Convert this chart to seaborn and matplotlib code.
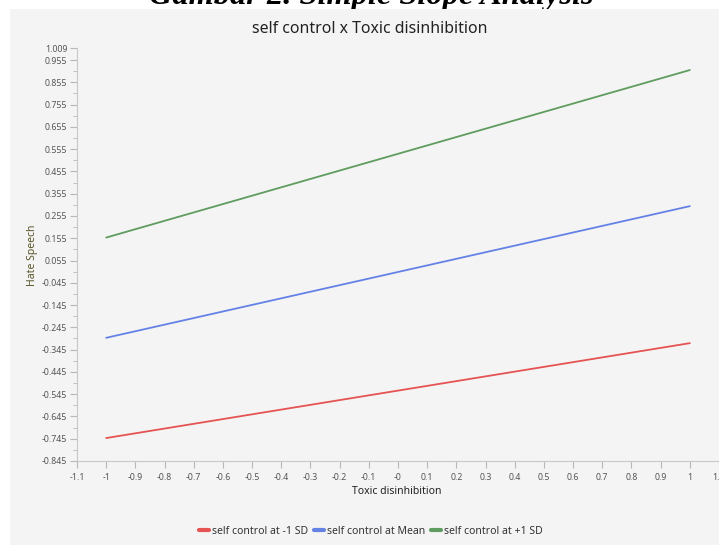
import matplotlib
matplotlib.use("Agg")
import matplotlib.pyplot as plt
from matplotlib.patches import Rectangle
from matplotlib.ticker import FixedLocator, FixedFormatter
import seaborn as sns
import pandas as pd

# ---- data ----
x_vals = [-1, 1]
series_names = ["self control at -1 SD", "self control at Mean", "self control at +1 SD"]
low_sd = [-0.742, -0.316]
mean_sd = [-0.292, 0.299]
high_sd = [0.158, 0.910]
colors = ["#e55353", "#6482e6", "#5f9c5f"]

y_major = [-0.845, -0.745, -0.645, -0.545, -0.445, -0.345, -0.245, -0.145, -0.045,
           0.055, 0.155, 0.255, 0.355, 0.455, 0.555, 0.655, 0.755, 0.855, 0.955, 1.009]
y_major_labels = ["-0.845", "-0.745", "-0.645", "-0.545", "-0.445", "-0.345", "-0.245",
                  "-0.145", "-0.045", "0.055", "0.155", "0.255", "0.355", "0.455", "0.555",
                  "0.655", "0.755", "0.855", "0.955", "1.009"]
y_minor = [-0.795, -0.695, -0.595, -0.495, -0.395, -0.295, -0.195, -0.095, 0.005,
           0.105, 0.205, 0.305, 0.405, 0.505, 0.605, 0.705, 0.805, 0.905]
x_ticks = [-1.1, -1.0, -0.9, -0.8, -0.7, -0.6, -0.5, -0.4, -0.3, -0.2, -0.1, 0.0,
           0.1, 0.2, 0.3, 0.4, 0.5, 0.6, 0.7, 0.8, 0.9, 1.0, 1.1]
x_tick_labels = ["-1.1", "-1", "-0.9", "-0.8", "-0.7", "-0.6", "-0.5", "-0.4", "-0.3",
                 "-0.2", "-0.1", "-0", "0.1", "0.2", "0.3", "0.4", "0.5", "0.6", "0.7",
                 "0.8", "0.9", "1", "1.1"]

df = pd.DataFrame({
    "Toxic disinhibition": x_vals * 3,
    "Hate Speech": low_sd + mean_sd + high_sd,
    "series": [series_names[0]] * 2 + [series_names[1]] * 2 + [series_names[2]] * 2,
})

sns.set_theme(style="white")
plt.rcParams["font.family"] = ["Noto Sans", "DejaVu Sans"]

W, H = 719, 545
bg = "#f4f4f4"
fig = plt.figure(figsize=(W / 100, H / 100), dpi=100, facecolor="white")

# caption (cut off at top, partly hidden behind the panel)
fig.text(371 / W, 1 - 4 / H, "Gambar 2. Simple Slope Analysis", ha="center", va="baseline",
         fontsize=23.3, fontweight="bold", fontstyle="italic", family="Liberation Serif",
         color="black", zorder=0.5)
fig.add_artist(Rectangle((10 / W, 0), 1 - 10 / W, 1 - 9 / H, transform=fig.transFigure,
                         facecolor=bg, edgecolor="none", zorder=1))

ax = fig.add_axes([77 / W, 1 - 461 / H, 1 - 77 / W, (461 - 48) / H])
ax.set_zorder(2)
ax.set_facecolor(bg)

sns.lineplot(data=df, x="Toxic disinhibition", y="Hate Speech", hue="series",
             hue_order=series_names, palette=colors, linewidth=1.3, ax=ax)

handles, labels = ax.get_legend_handles_labels()
ax.get_legend().remove()

ax.set_xlim(-1.1, 1.1)
ax.set_ylim(-0.845, 1.009)
ax.set_xlabel("")
ax.set_ylabel("")

ax.yaxis.set_major_locator(FixedLocator(y_major))
ax.yaxis.set_major_formatter(FixedFormatter(y_major_labels))
ax.yaxis.set_minor_locator(FixedLocator(y_minor))
ax.xaxis.set_major_locator(FixedLocator(x_ticks))
ax.xaxis.set_major_formatter(FixedFormatter(x_tick_labels))

for s in ["top", "right"]:
    ax.spines[s].set_visible(False)
for s in ["left", "bottom"]:
    ax.spines[s].set_color("#c8c8c8")
    ax.spines[s].set_linewidth(0.8)

ax.tick_params(axis="both", which="major", direction="out", length=5, width=0.8,
               color="#b8b8b8", labelsize=6.3, labelcolor="#555555", pad=2,
               left=True, bottom=True)
ax.tick_params(axis="y", which="minor", direction="out", length=3, width=0.7,
               color="#c0c0c0", left=True)
ax.tick_params(axis="x", which="major", pad=4)
for lab in ax.get_xticklabels() + ax.get_yticklabels():
    lab.set_clip_on(False)

fig.text(370 / W, 1 - 29 / H, "self control x Toxic disinhibition", ha="center", va="center",
         fontsize=11.4, color="#222222", zorder=3)
fig.text(397 / W, 1 - 492 / H, "Toxic disinhibition", ha="center", va="center",
         fontsize=7.5, color="#222222", zorder=3)
fig.text(33 / W, 1 - 255 / H, "Hate Speech", ha="center", va="center", rotation=90,
         fontsize=7.5, color="#5a5428", zorder=3)

leg = fig.legend(handles, labels, loc="center", bbox_to_anchor=(371 / W, 1 - 531 / H),
                 ncol=3, frameon=False, fontsize=7.5, handlelength=0.9, handletextpad=0.3,
                 columnspacing=0.6, labelcolor="#333333")
leg.set_zorder(3)
for h in leg.legend_handles:
    h.set_linewidth(3)

fig.savefig("out.png", dpi=100, facecolor="white")
